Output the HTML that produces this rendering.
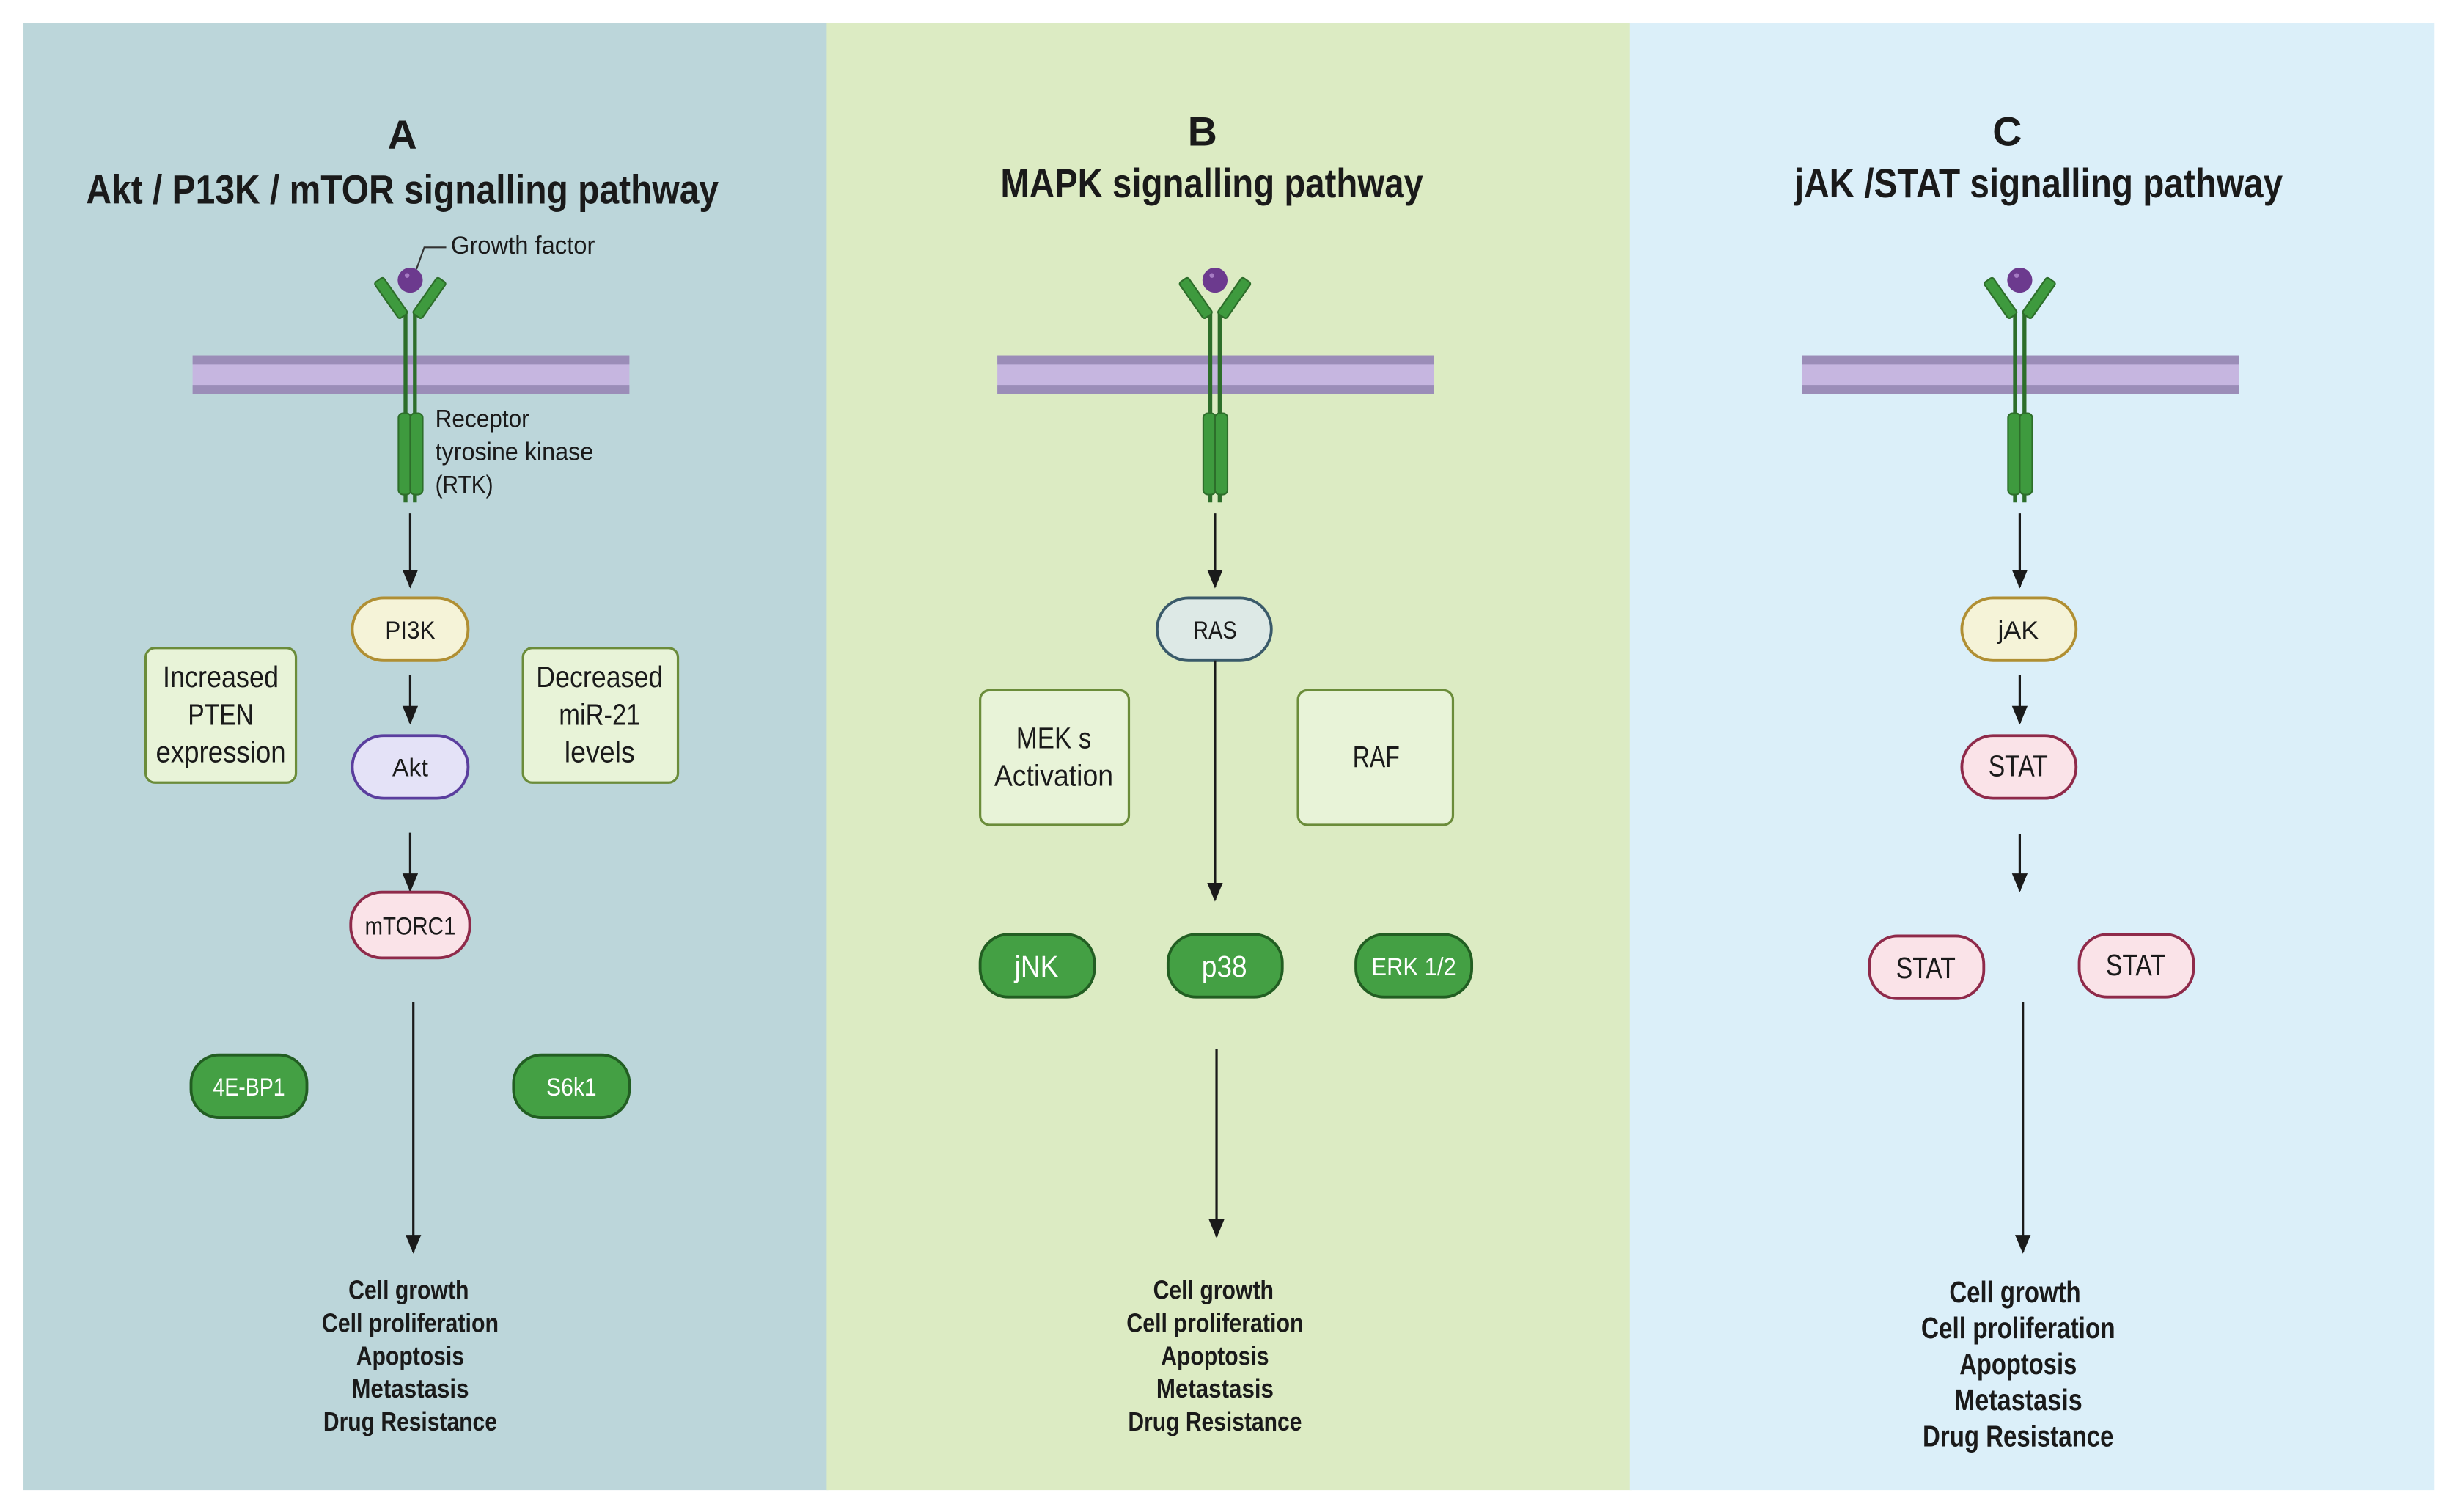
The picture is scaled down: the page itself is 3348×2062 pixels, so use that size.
<!DOCTYPE html>
<html><head><meta charset="utf-8"><style>
html,body{margin:0;padding:0;background:#fff;}
svg{display:block;}
text{font-family:"Liberation Sans Narrow","Liberation Sans",sans-serif;fill:#1a1a1a;}
.t{font-weight:bold;font-size:26px;text-anchor:middle;}
.n{font-size:16px;text-anchor:middle;}
.o{font-size:17px;font-weight:bold;text-anchor:middle;}
.w{fill:#fff;}
</style></head><body>
<svg width="3348" height="2062" viewBox="0 0 1568 966" preserveAspectRatio="none" xmlns="http://www.w3.org/2000/svg">
<defs>
<marker id="ar" markerWidth="12" markerHeight="10" refX="11" refY="5" orient="auto" markerUnits="userSpaceOnUse">
<path d="M0,0 L12,5 L0,10 Z" fill="#1a1a1a"/>
</marker>
<g id="rec">
<rect x="-139" y="227" width="279" height="25" fill="#c6b6e0"/>
<rect x="-139" y="227" width="279" height="6" fill="#9b8db8"/>
<rect x="-139" y="246" width="279" height="6" fill="#9b8db8"/>
<line x1="-3" y1="200" x2="-3" y2="321" stroke="#2d6e2a" stroke-width="2.5"/>
<line x1="3" y1="200" x2="3" y2="321" stroke="#2d6e2a" stroke-width="2.5"/>
<rect x="-7.5" y="264" width="8" height="52" rx="3" fill="#3e9a3e" stroke="#2d6e2a"/>
<rect x="0" y="264" width="8" height="52" rx="3" fill="#3e9a3e" stroke="#2d6e2a"/>
<rect x="-8" y="173" width="7" height="28" rx="1.5" fill="#3e9a3e" stroke="#2d6e2a" transform="rotate(-35 -3 201)"/>
<rect x="1" y="173" width="7" height="28" rx="1.5" fill="#3e9a3e" stroke="#2d6e2a" transform="rotate(35 3 201)"/>
<circle cx="0" cy="179" r="8" fill="#6c3a8e"/>
<circle cx="-2" cy="176" r="1.5" fill="#a77cc4"/>
</g>
</defs>
<rect x="15" y="15" width="514" height="937" fill="#bcd6da"/>
<rect x="528" y="15" width="514" height="937" fill="#dcebc3"/>
<rect x="1041" y="15" width="514" height="937" fill="#dbeff9"/>

<!-- A -->
<text class="t" x="257" y="95">A</text>
<text class="t" x="257" y="130" textLength="404" lengthAdjust="spacingAndGlyphs">Akt / P13K / mTOR signalling pathway</text>
<use href="#rec" x="262"/>
<polyline points="266,172 271,158 285,158" fill="none" stroke="#333" stroke-width="1"/>
<text x="288" y="162" style="font-size:16px" textLength="92" lengthAdjust="spacingAndGlyphs">Growth factor</text>
<text x="278" y="273" style="font-size:16px" textLength="60" lengthAdjust="spacingAndGlyphs">Receptor</text>
<text x="278" y="294" style="font-size:16px" textLength="101" lengthAdjust="spacingAndGlyphs">tyrosine kinase</text>
<text x="278" y="315" style="font-size:16px" textLength="37" lengthAdjust="spacingAndGlyphs">(RTK)</text>
<line x1="262" y1="328" x2="262" y2="375" stroke="#1a1a1a" stroke-width="1.5" marker-end="url(#ar)"/>
<rect x="225" y="382" width="74" height="40" rx="20" fill="#f5f3d8" stroke="#b08f33" stroke-width="1.8"/>
<text class="n" x="262" y="408" textLength="32" lengthAdjust="spacingAndGlyphs">PI3K</text>
<line x1="262" y1="431" x2="262" y2="462" stroke="#1a1a1a" stroke-width="1.5" marker-end="url(#ar)"/>
<rect x="225" y="470" width="74" height="40" rx="20" fill="#e4e2f7" stroke="#5a3e9e" stroke-width="1.8"/>
<text class="n" x="262" y="496" textLength="23" lengthAdjust="spacingAndGlyphs">Akt</text>
<rect x="93" y="414" width="96" height="86" rx="6" fill="#e8f3d8" stroke="#6b8c3a" stroke-width="1.5"/>
<text class="n" x="141" y="439" style="font-size:19px" textLength="74" lengthAdjust="spacingAndGlyphs">Increased</text>
<text class="n" x="141" y="463" style="font-size:19px" textLength="42" lengthAdjust="spacingAndGlyphs">PTEN</text>
<text class="n" x="141" y="487" style="font-size:19px" textLength="83" lengthAdjust="spacingAndGlyphs">expression</text>
<rect x="334" y="414" width="99" height="86" rx="6" fill="#e8f3d8" stroke="#6b8c3a" stroke-width="1.5"/>
<text class="n" x="383" y="439" style="font-size:19px" textLength="81" lengthAdjust="spacingAndGlyphs">Decreased</text>
<text class="n" x="383" y="463" style="font-size:19px" textLength="52" lengthAdjust="spacingAndGlyphs">miR-21</text>
<text class="n" x="383" y="487" style="font-size:19px" textLength="45" lengthAdjust="spacingAndGlyphs">levels</text>
<line x1="262" y1="532" x2="262" y2="569" stroke="#1a1a1a" stroke-width="1.5" marker-end="url(#ar)"/>
<rect x="224" y="570" width="76" height="42" rx="20" fill="#fae3e8" stroke="#8f2a4a" stroke-width="1.8"/>
<text class="n" x="262" y="597" textLength="58" lengthAdjust="spacingAndGlyphs">mTORC1</text>
<rect x="122" y="674" width="74" height="40" rx="18" fill="#44a044" stroke="#225e22" stroke-width="1.8"/>
<text class="n w" x="159" y="700" textLength="46" lengthAdjust="spacingAndGlyphs">4E-BP1</text>
<rect x="328" y="674" width="74" height="40" rx="18" fill="#44a044" stroke="#225e22" stroke-width="1.8"/>
<text class="n w" x="365" y="700" textLength="32" lengthAdjust="spacingAndGlyphs">S6k1</text>
<line x1="264" y1="640" x2="264" y2="800" stroke="#1a1a1a" stroke-width="1.5" marker-end="url(#ar)"/>
<text class="o" x="261" y="830" textLength="77" lengthAdjust="spacingAndGlyphs">Cell growth</text>
<text class="o" x="262" y="851" textLength="113" lengthAdjust="spacingAndGlyphs">Cell proliferation</text>
<text class="o" x="262" y="872" textLength="69" lengthAdjust="spacingAndGlyphs">Apoptosis</text>
<text class="o" x="262" y="893" textLength="75" lengthAdjust="spacingAndGlyphs">Metastasis</text>
<text class="o" x="262" y="914" textLength="111" lengthAdjust="spacingAndGlyphs">Drug Resistance</text>

<!-- B -->
<text class="t" x="768" y="93">B</text>
<text class="t" x="774" y="126" textLength="270" lengthAdjust="spacingAndGlyphs">MAPK signalling pathway</text>
<use href="#rec" x="776"/>
<line x1="776" y1="328" x2="776" y2="375" stroke="#1a1a1a" stroke-width="1.5" marker-end="url(#ar)"/>
<rect x="739" y="382" width="73" height="40" rx="20" fill="#dde9e6" stroke="#3a5a6a" stroke-width="1.8"/>
<text class="n" x="776" y="408" textLength="28" lengthAdjust="spacingAndGlyphs">RAS</text>
<rect x="626" y="441" width="95" height="86" rx="6" fill="#e8f3d8" stroke="#6b8c3a" stroke-width="1.5"/>
<text class="n" x="673" y="478" style="font-size:19px" textLength="48" lengthAdjust="spacingAndGlyphs">MEK s</text>
<text class="n" x="673" y="502" style="font-size:19px" textLength="76" lengthAdjust="spacingAndGlyphs">Activation</text>
<rect x="829" y="441" width="99" height="86" rx="6" fill="#e8f3d8" stroke="#6b8c3a" stroke-width="1.5"/>
<text class="n" x="879" y="490" style="font-size:19px" textLength="30" lengthAdjust="spacingAndGlyphs">RAF</text>
<line x1="776" y1="422" x2="776" y2="575" stroke="#1a1a1a" stroke-width="1.5" marker-end="url(#ar)"/>
<rect x="626" y="597" width="73" height="40" rx="18" fill="#44a044" stroke="#225e22" stroke-width="1.8"/>
<text class="n w" x="662" y="624" style="font-size:19px" textLength="28" lengthAdjust="spacingAndGlyphs">jNK</text>
<rect x="746" y="597" width="73" height="40" rx="18" fill="#44a044" stroke="#225e22" stroke-width="1.8"/>
<text class="n w" x="782" y="624" style="font-size:19px" textLength="29" lengthAdjust="spacingAndGlyphs">p38</text>
<rect x="866" y="597" width="74" height="40" rx="18" fill="#44a044" stroke="#225e22" stroke-width="1.8"/>
<text class="n w" x="903" y="623" textLength="54" lengthAdjust="spacingAndGlyphs">ERK 1/2</text>
<line x1="777" y1="670" x2="777" y2="790" stroke="#1a1a1a" stroke-width="1.5" marker-end="url(#ar)"/>
<text class="o" x="775" y="830" textLength="77" lengthAdjust="spacingAndGlyphs">Cell growth</text>
<text class="o" x="776" y="851" textLength="113" lengthAdjust="spacingAndGlyphs">Cell proliferation</text>
<text class="o" x="776" y="872" textLength="69" lengthAdjust="spacingAndGlyphs">Apoptosis</text>
<text class="o" x="776" y="893" textLength="75" lengthAdjust="spacingAndGlyphs">Metastasis</text>
<text class="o" x="776" y="914" textLength="111" lengthAdjust="spacingAndGlyphs">Drug Resistance</text>

<!-- C -->
<text class="t" x="1282" y="93">C</text>
<text class="t" x="1302" y="126" textLength="312" lengthAdjust="spacingAndGlyphs">jAK /STAT signalling pathway</text>
<use href="#rec" x="1290"/>
<line x1="1290" y1="328" x2="1290" y2="375" stroke="#1a1a1a" stroke-width="1.5" marker-end="url(#ar)"/>
<rect x="1253" y="382" width="73" height="40" rx="20" fill="#f5f3d8" stroke="#b08f33" stroke-width="1.8"/>
<text class="n" x="1289" y="408" textLength="26" lengthAdjust="spacingAndGlyphs">jAK</text>
<line x1="1290" y1="431" x2="1290" y2="462" stroke="#1a1a1a" stroke-width="1.5" marker-end="url(#ar)"/>
<rect x="1253" y="470" width="73" height="40" rx="20" fill="#fae3e8" stroke="#8f2a4a" stroke-width="1.8"/>
<text class="n" x="1289" y="496" style="font-size:19px" textLength="38" lengthAdjust="spacingAndGlyphs">STAT</text>
<line x1="1290" y1="533" x2="1290" y2="569" stroke="#1a1a1a" stroke-width="1.5" marker-end="url(#ar)"/>
<rect x="1194" y="598" width="73" height="40" rx="18" fill="#fae3e8" stroke="#8f2a4a" stroke-width="1.8"/>
<text class="n" x="1230" y="625" style="font-size:19px" textLength="38" lengthAdjust="spacingAndGlyphs">STAT</text>
<rect x="1328" y="597" width="73" height="40" rx="18" fill="#fae3e8" stroke="#8f2a4a" stroke-width="1.8"/>
<text class="n" x="1364" y="623" style="font-size:19px" textLength="38" lengthAdjust="spacingAndGlyphs">STAT</text>
<line x1="1292" y1="640" x2="1292" y2="800" stroke="#1a1a1a" stroke-width="1.5" marker-end="url(#ar)"/>
<text class="o" x="1287" y="832" style="font-size:19px" textLength="84" lengthAdjust="spacingAndGlyphs">Cell growth</text>
<text class="o" x="1289" y="855" style="font-size:19px" textLength="124" lengthAdjust="spacingAndGlyphs">Cell proliferation</text>
<text class="o" x="1289" y="878" style="font-size:19px" textLength="75" lengthAdjust="spacingAndGlyphs">Apoptosis</text>
<text class="o" x="1289" y="901" style="font-size:19px" textLength="82" lengthAdjust="spacingAndGlyphs">Metastasis</text>
<text class="o" x="1289" y="924" style="font-size:19px" textLength="122" lengthAdjust="spacingAndGlyphs">Drug Resistance</text>
</svg>
</body></html>
